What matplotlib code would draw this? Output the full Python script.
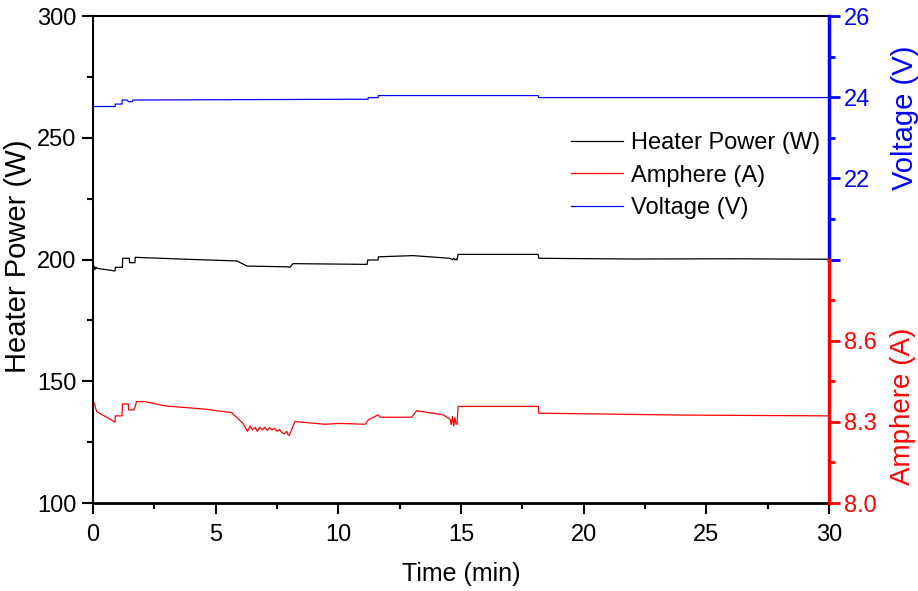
import numpy as np
import matplotlib
matplotlib.use('Agg')
import matplotlib.pyplot as plt
from matplotlib.ticker import MultipleLocator, FixedLocator

plt.rcParams['font.family'] = ['Liberation Sans', 'DejaVu Sans']

# heater power (W)
t_pow = [0.04, 0.08, 0.12, 0.15, 0.90, 0.91, 1.20, 1.21, 1.48, 1.49, 1.71, 1.72, 3.55, 5.87,
         6.28, 7.91, 8.03, 8.15, 11.17, 11.20, 11.62, 11.63, 13.04, 14.55, 14.65, 14.70,
         14.75, 14.80, 14.84, 14.88, 18.14, 18.17, 22.0, 26.0, 30.0]
power = [197.3, 195.8, 196.9, 196.4, 195.3, 196.8, 196.8, 200.5, 200.5, 198.7, 198.7, 200.9,
         200.2, 199.4, 197.3, 197.0, 196.8, 198.3, 198.0, 199.8, 199.8, 201.1, 201.6, 200.5,
         199.9, 200.5, 199.8, 200.3, 199.8, 202.1, 202.1, 200.5, 200.2, 200.3, 200.1]

# current (A)
t_amp = [0.05, 0.15, 0.90, 0.91, 1.18, 1.20, 1.44, 1.45, 1.67, 1.78, 2.12, 2.93, 4.56, 5.65,
         6.11, 6.20, 6.30, 6.40, 6.50, 6.60, 6.70, 6.80, 6.90, 7.00, 7.10, 7.20, 7.30, 7.40,
         7.50, 7.60, 7.70, 7.80, 7.90, 7.95, 8.00, 8.23, 9.46, 10.0, 10.48, 11.09, 11.22,
         11.62, 11.70, 12.99, 13.19, 14.27, 14.55, 14.60, 14.65, 14.70, 14.75, 14.80, 14.84,
         14.88, 18.15, 18.17, 24.0, 30.0]
amps = [8.369, 8.338, 8.299, 8.322, 8.322, 8.366, 8.366, 8.344, 8.344, 8.375, 8.375, 8.359,
        8.347, 8.334, 8.295, 8.280, 8.265, 8.285, 8.270, 8.280, 8.265, 8.280, 8.270, 8.280,
        8.268, 8.278, 8.270, 8.276, 8.265, 8.272, 8.260, 8.255, 8.265, 8.252, 8.250, 8.301,
        8.291, 8.294, 8.293, 8.291, 8.307, 8.326, 8.317, 8.317, 8.341, 8.326, 8.310, 8.290,
        8.320, 8.285, 8.315, 8.290, 8.295, 8.357, 8.357, 8.332, 8.325, 8.322]

# voltage (V)
t_volt = [0.05, 0.90, 0.91, 1.18, 1.19, 1.39, 1.45, 1.60, 1.63, 11.21, 11.22, 11.62, 11.63,
          18.14, 18.17, 30.0]
volt = [23.77, 23.77, 23.83, 23.83, 23.93, 23.93, 23.89, 23.89, 23.93, 23.95, 23.99, 23.99,
        24.04, 24.04, 23.99, 23.99]

fig = plt.figure(figsize=(9.18, 5.91), dpi=100)
ax = fig.add_axes([0.1013, 0.1489, 0.8018, 0.8240])
ax_v = ax.twinx()
ax_a = ax.twinx()

l1, = ax.plot(t_pow, power, color='black', lw=0.9)
l2, = ax_a.plot(t_amp, amps, color='red', lw=0.9)
l3, = ax_v.plot(t_volt, volt, color='blue', lw=0.9)

ax.set_xlim(0, 30)
ax.set_ylim(100, 300)
ax.xaxis.set_major_locator(MultipleLocator(5))
ax.xaxis.set_minor_locator(MultipleLocator(2.5))
ax.yaxis.set_major_locator(MultipleLocator(50))
ax.yaxis.set_minor_locator(MultipleLocator(25))
ax.tick_params(which='major', direction='out', length=8, width=1.5, labelsize=17, pad=4)
ax.tick_params(which='minor', direction='out', length=4, width=1.5)
ax.tick_params(axis='x', which='major', pad=7)
ax.tick_params(axis='y', right=False)
ax.spines['right'].set_visible(False)
for s in ['left', 'top']:
    ax.spines[s].set_linewidth(1.5)
ax.spines['bottom'].set_linewidth(2)

# voltage axis (upper right part)
ax_v.set_ylim(14, 26)
ax_v.yaxis.set_major_locator(FixedLocator([20, 22, 24, 26]))
ax_v.yaxis.set_minor_locator(FixedLocator([21, 23, 25]))
ax_v.set_yticklabels(['', '22', '24', '26'])
ax_v.spines['right'].set_bounds(20, 26)
ax_v.spines['right'].set_color('blue')
ax_v.spines['right'].set_linewidth(2.5)
ax_v.tick_params(axis='y', which='major', colors='blue', length=8, width=2, labelsize=17, pad=3)
ax_v.tick_params(axis='y', which='minor', colors='blue', length=4, width=2)

# current axis (lower right part)
ax_a.set_ylim(8.0, 9.8)
ax_a.yaxis.set_major_locator(FixedLocator([8.0, 8.3, 8.6]))
ax_a.yaxis.set_minor_locator(FixedLocator([8.15, 8.45, 8.75]))
ax_a.set_yticklabels(['8.0', '8.3', '8.6'])
ax_a.spines['right'].set_bounds(8.0, 8.9)
ax_a.spines['right'].set_color('red')
ax_a.spines['right'].set_linewidth(2.5)
ax_a.tick_params(axis='y', which='major', colors='red', length=8, width=2, labelsize=17, pad=3)
ax_a.tick_params(axis='y', which='minor', colors='red', length=4, width=2)

for a in (ax_v, ax_a):
    for s in ['left', 'top', 'bottom']:
        a.spines[s].set_visible(False)

ax.text(0.5, -0.146, 'Time (min)', transform=ax.transAxes, ha='center', va='center', fontsize=18)
ax.text(-0.102, 0.507, 'Heater Power (W)', transform=ax.transAxes, ha='center', va='center',
        rotation=90, fontsize=21)
ax.text(1.103, 0.79, 'Voltage (V)', transform=ax.transAxes, ha='center', va='center',
        rotation=90, fontsize=21, color='blue')
ax.text(1.100, 0.199, 'Amphere (A)', transform=ax.transAxes, ha='center', va='center',
        rotation=90, fontsize=20, color='red')

leg = ax_v.legend([l1, l2, l3], ['Heater Power (W)', 'Amphere (A)', 'Voltage (V)'],
                  loc='upper left', bbox_to_anchor=(0.649, 0.762), frameon=False,
                  fontsize=17, handlelength=2.2, handletextpad=0.35, labelspacing=0.45,
                  borderpad=0, borderaxespad=0)

fig.savefig('out.png', dpi=100)
